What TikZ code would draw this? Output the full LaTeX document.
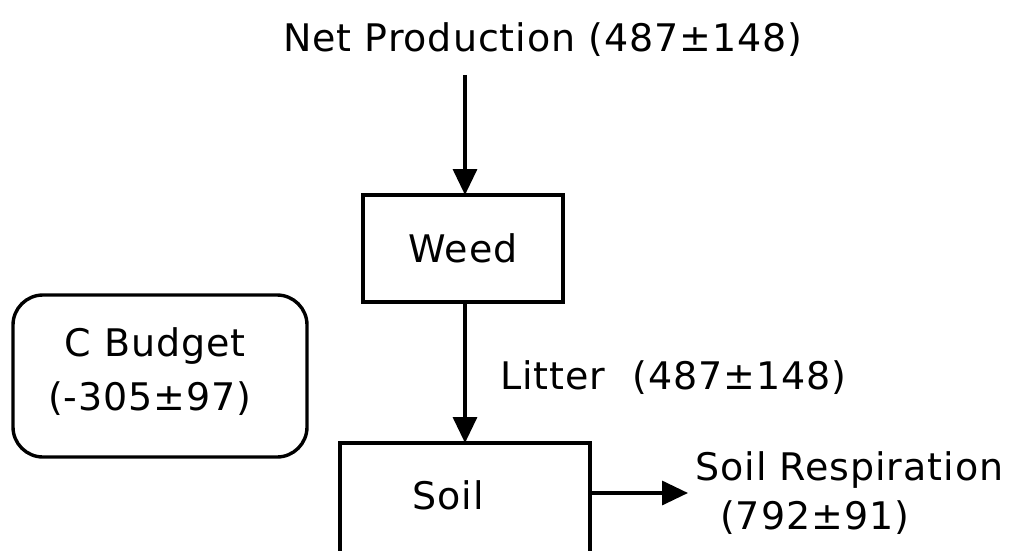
\documentclass[tikz,border=0pt]{standalone}
\usepackage{fontspec}
\setmainfont[LetterSpace=2.5]{DejaVu Sans}
\usetikzlibrary{arrows.meta}
\begin{document}
\begin{tikzpicture}[x=1pt,y=-1pt,
  box/.style={draw,line width=3.4pt,inner sep=0pt},
  lbl/.style={font=\fontsize{38}{44}\selectfont,inner sep=0pt},
  flow/.style={line width=3.4pt,-{Triangle[length=26pt,width=24pt]}}]
\useasboundingbox (0,0) rectangle (1017,551);
\node[lbl] (np) at (543,40) {Net Production (487±148)};
\node[box,minimum width=200pt,minimum height=107pt] (weed) at (463,248.5) {};
\node[lbl] at (weed.center) {Weed};
\node[box,minimum width=250pt,minimum height=130pt] (soil) at (465,508) {};
\node[lbl] at (448,495) {Soil};
\draw[box,rounded corners=30pt] (13,295) rectangle (307,457);
\node[lbl] (cb1) at (155,346) {C Budget};
\node[lbl] (cb2) at (150,399) {(-305±97)};
\coordinate (s1) at (465,75);
\draw[flow] (s1) -- (465,195);
\draw[flow] (465,302) -- (465,443);
\node[lbl,anchor=west] (lit) at (500,378) {Litter \hspace*{14pt}(487±148)};
\draw[flow] (soil.east |- 0,493) -- (688,493);
\node[lbl,anchor=west] (sr1) at (695,470) {Soil Respiration};
\node[lbl,anchor=west] (sr2) at (720,518) {(792±91)};
\end{tikzpicture}
\end{document}
